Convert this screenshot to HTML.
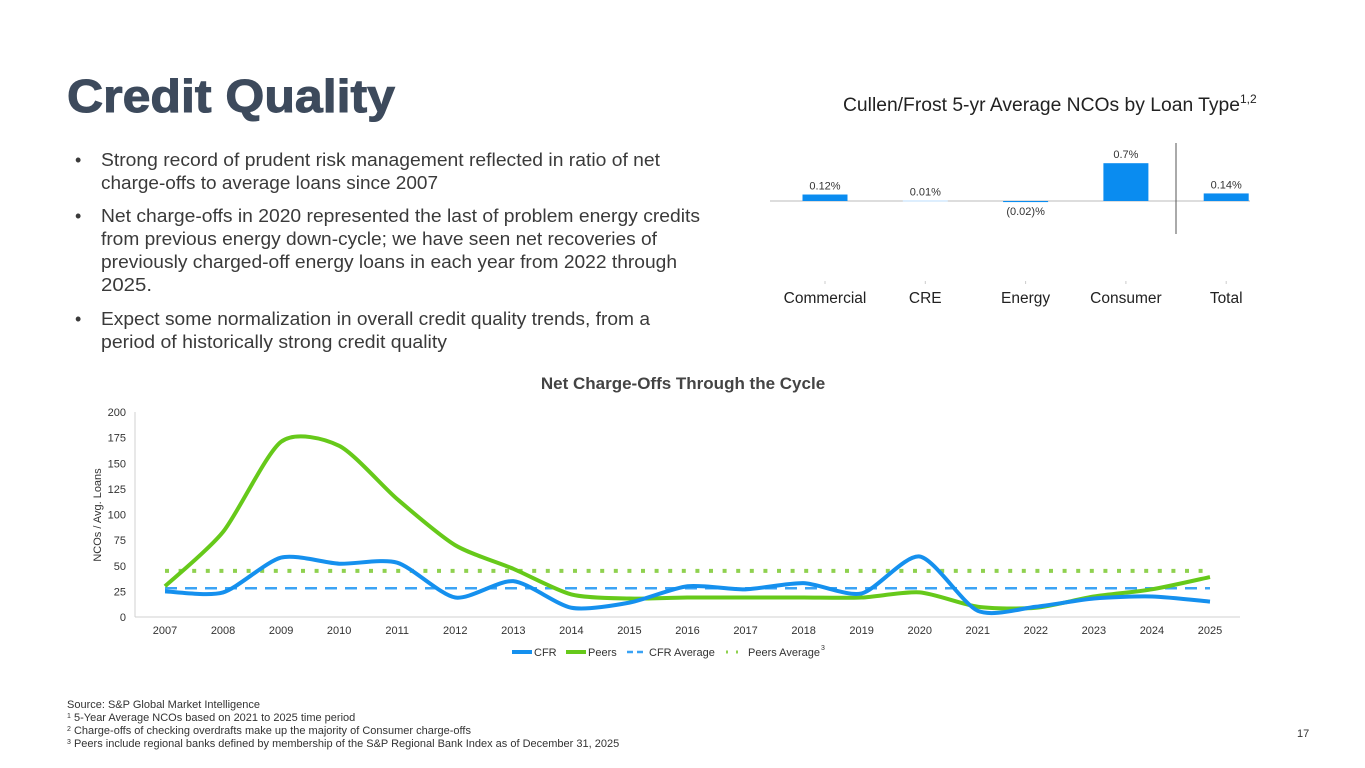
<!DOCTYPE html>
<html><head><meta charset="utf-8"><style>
html,body{margin:0;padding:0;background:#fff;}
svg{display:block;font-family:"Liberation Sans",sans-serif;}
</style></head><body>
<svg id="s" width="1365" height="768" viewBox="0 0 1365 768">
<text x="67" y="112" font-size="46" font-weight="bold" fill="#3d4a5c" stroke="#3d4a5c" stroke-width="1" textLength="328" lengthAdjust="spacingAndGlyphs">Credit Quality</text>
<g font-size="18" fill="#3a3a3a">
<text x="75" y="166">•</text>
<text x="101" y="166" textLength="559" lengthAdjust="spacingAndGlyphs">Strong record of prudent risk management reflected in ratio of net</text>
<text x="101" y="189" textLength="337" lengthAdjust="spacingAndGlyphs">charge-offs to average loans since 2007</text>
<text x="75" y="222">•</text>
<text x="101" y="222" textLength="599" lengthAdjust="spacingAndGlyphs">Net charge-offs in 2020 represented the last of problem energy credits</text>
<text x="101" y="245" textLength="556" lengthAdjust="spacingAndGlyphs">from previous energy down-cycle; we have seen net recoveries of</text>
<text x="101" y="268" textLength="576" lengthAdjust="spacingAndGlyphs">previously charged-off energy loans in each year from 2022 through</text>
<text x="101" y="291" textLength="51" lengthAdjust="spacingAndGlyphs">2025.</text>
<text x="75" y="325">•</text>
<text x="101" y="325" textLength="549" lengthAdjust="spacingAndGlyphs">Expect some normalization in overall credit quality trends, from a</text>
<text x="101" y="348" textLength="346" lengthAdjust="spacingAndGlyphs">period of historically strong credit quality</text>
</g>
<text x="843" y="111" font-size="19" fill="#222" textLength="397" lengthAdjust="spacingAndGlyphs">Cullen/Frost 5-yr Average NCOs by Loan Type</text>
<text x="1240" y="103" font-size="12" fill="#222">1,2</text>
<g id="bars"></g>
<text x="683" y="389" font-size="17" font-weight="bold" fill="#444" text-anchor="middle">Net Charge-Offs Through the Cycle</text>
<g id="lines"></g>
<g font-size="11" fill="#333">
<text x="67" y="708">Source: S&amp;P Global Market Intelligence</text>
<text x="67" y="721"><tspan font-size="7" dy="-3">1</tspan><tspan dy="3"> 5-Year Average NCOs based on 2021 to 2025 time period</tspan></text>
<text x="67" y="734"><tspan font-size="7" dy="-3">2</tspan><tspan dy="3"> Charge-offs of checking overdrafts make up the majority of Consumer charge-offs</tspan></text>
<text x="67" y="747"><tspan font-size="7" dy="-3">3</tspan><tspan dy="3"> Peers include regional banks defined by membership of the S&amp;P Regional Bank Index as of December 31, 2025</tspan></text>
</g>
<text x="1297" y="737" font-size="11" fill="#333">17</text>
</svg>
<script>
const NS='http://www.w3.org/2000/svg';
const barCats=['Commercial','CRE','Energy','Consumer','Total'];
const barVals=[0.12,0.01,-0.02,0.7,0.14];
const barLabels=['0.12%','0.01%','(0.02)%','0.7%','0.14%'];
const years=['2007','2008','2009','2010','2011','2012','2013','2014','2015','2016','2017','2018','2019','2020','2021','2022','2023','2024','2025'];
const cfr=[25,24,58,52,53,19,35,9,14,30,27,33,23,59,6,10,18,20,15];
const peers=[30,83,171,167,115,70,47,22,18,19,19,19,19,24,10,9,20,27,39];
const cfrAvg=28;
const peersAvg=45;
const yTicks=[0,25,50,75,100,125,150,175,200];

function mk(tag,attrs,parent){const e=document.createElementNS(NS,tag);for(const k in attrs)e.setAttribute(k,attrs[k]);parent.appendChild(e);return e;}

// bar chart
const bg=document.getElementById('bars');
const bx=i=>825+i*100.3, base=201, by=v=>base-v*54;
mk('line',{x1:770,y1:base,x2:1250,y2:base,stroke:'#bbb','stroke-width':1},bg);
barVals.forEach((v,i)=>{
  const y0=Math.min(by(v),base), h=Math.max(Math.abs(by(v)-base),1);
  const r=mk('rect',{x:bx(i)-22.5,y:y0,width:45,height:h,fill:v===0.01?'#bfe0ff':'#0a8cf0'},bg);
  
  
  const t=mk('text',{x:bx(i),y:v<0?base+14:y0-5,'font-size':11,fill:'#333','text-anchor':'middle'},bg);
  t.textContent=barLabels[i];
  
  
  const tk=mk('line',{x1:bx(i),y1:281,x2:bx(i),y2:284,stroke:'#ccc'},bg);
  
  const c=mk('text',{x:bx(i),y:303,'font-size':15.5,fill:'#222','text-anchor':'middle'},bg);
  c.textContent=barCats[i];
  
  
});
const dv=mk('line',{x1:1176,y1:143,x2:1176,y2:234,stroke:'#555','stroke-width':1},bg);


// line chart
const lg=document.getElementById('lines');
const x0=165,x1=1210,yb=617,yt=412;
const X=i=>x0+i*(x1-x0)/(years.length-1);
const Y=v=>yb-v*(yb-yt)/200;
yTicks.forEach(t=>{const e=mk('text',{x:126,y:Y(t)+4,'font-size':11,fill:'#333','text-anchor':'end'},lg);e.textContent=t;});
mk('line',{x1:135,y1:yt,x2:135,y2:yb,stroke:'#d0d0d0'},lg);
mk('line',{x1:135,y1:yb,x2:1240,y2:yb,stroke:'#d0d0d0'},lg);
years.forEach((y,i)=>{const e=mk('text',{x:X(i),y:634,'font-size':11,fill:'#333','text-anchor':'middle'},lg);e.textContent=y;});
const yt2=mk('text',{x:0,y:0,'font-size':11,fill:'#333','text-anchor':'middle',transform:'translate(101,515) rotate(-90)'},lg);
yt2.textContent='NCOs / Avg. Loans';

const ca=mk('line',{x1:X(0),y1:Y(cfrAvg),x2:X(years.length-1),y2:Y(cfrAvg),stroke:'#3aa3f5','stroke-width':2.5,'stroke-dasharray':'12 8'},lg);

const pa=mk('line',{x1:X(0),y1:Y(peersAvg),x2:X(years.length-1),y2:Y(peersAvg),stroke:'#8fd14f','stroke-width':4,'stroke-dasharray':'4 9.6'},lg);

function smooth(vals){
  const p=vals.map((v,i)=>[X(i),Y(v)]);let d='M'+p[0][0]+','+p[0][1];
  const k=8;
  for(let i=0;i<p.length-1;i++){const a=p[i-1]||p[i],b=p[i],c=p[i+1],e=p[i+2]||c;
    d+=' C'+(b[0]+(c[0]-a[0])/k)+','+(b[1]+(c[1]-a[1])/k)+' '+(c[0]-(e[0]-b[0])/k)+','+(c[1]-(e[1]-b[1])/k)+' '+c[0]+','+c[1];}
  return d;}
const pl=mk('path',{d:smooth(peers),fill:'none',stroke:'#66c91a','stroke-width':4},lg);


const cl=mk('path',{d:smooth(cfr),fill:'none',stroke:'#1590ee','stroke-width':4},lg);


// legend
const L=[['CFR','#1590ee',null,4,512],['Peers','#66c91a',null,4,566],['CFR Average','#3aa3f5','6 4',2.5,627],['Peers Average','#8fd14f','2 8',3,726]];
L.forEach(l=>{
  const ln=mk('line',{x1:l[4],y1:652,x2:l[4]+20,y2:652,stroke:l[1],'stroke-width':l[3]},lg);
  if(l[2])ln.setAttribute('stroke-dasharray',l[2]);
  
  const t=mk('text',{x:l[4]+22,y:656,'font-size':11,fill:'#333'},lg);
  t.textContent=l[0];
  
  
});
const sup=mk('text',{x:821,y:650,'font-size':7,fill:'#333'},lg);sup.textContent='3';

</script>
</body></html>
